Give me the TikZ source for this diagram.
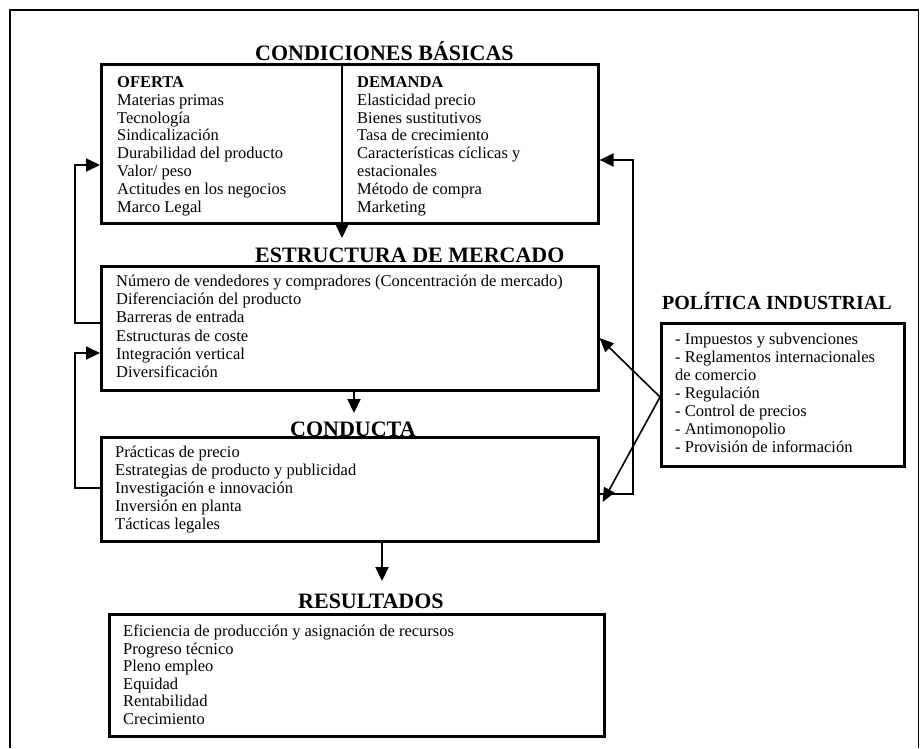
\documentclass[tikz,border=0pt]{standalone}
\usepackage{fontspec}
\setmainfont{Liberation Serif}
\usetikzlibrary{arrows.meta}

\begin{document}
\begin{tikzpicture}[x=1pt,y=-1pt,
  box/.style={draw, line width=2.6pt, anchor=north west, inner sep=0pt,
    minimum width=#1},
  frame/.style={line width=1.3pt},
  conn/.style={line width=2pt, -{Triangle[length=14pt,width=13pt]}},
  slant/.style={line width=1.6pt, -{Triangle[length=14pt,width=12pt]}},
  title/.style={anchor=base west, inner sep=0pt,
    font=\fontsize{22}{24}\selectfont\bfseries},
  body/.style={anchor=north west, inner sep=0pt, align=left,
    font=\fontsize{16.5}{#1}\selectfont},
]
\useasboundingbox (0,0) rectangle (920,748);
\fill[white] (0,0) rectangle (920,748);

% outer frame
\draw[frame] (10,748) -- (10,10) -- (918.5,10) -- (918.5,748);

% boxes
\node[box=497pt, minimum height=159pt] (cb) at (100,63) {};
\node[box=497pt, minimum height=124pt] (em) at (100,265) {};
\node[box=497pt, minimum height=104pt] (co) at (100,436) {};
\node[box=495pt, minimum height=122pt] (re) at (108,613) {};
\node[box=243pt, minimum height=143pt] (pi) at (660,322) {};

% divider between supply and demand
\coordinate (div) at (342,0);
\draw[line width=2.6pt] (cb.north -| div) -- (cb.south -| div);

% titles
\node[title] (cbt) at (255,60) {CONDICIONES BÁSICAS};
\node[title] (emt) at (255,262) {ESTRUCTURA DE MERCADO};
\node[title] (cot) at (290,436) {CONDUCTA};
\node[title] (ret) at (298,608) {RESULTADOS};
\node[title, font=\fontsize{20}{22}\selectfont\bfseries] (pit) at (662,309) {POLÍTICA INDUSTRIAL};

% box contents
\node[body=17.9pt] (of) at (117,74.5) {\strut\textbf{OFERTA}\\
  Materias primas\\ Tecnología\\ Sindicalización\\ Durabilidad del producto\\
  Valor/ peso\\ Actitudes en los negocios\\ Marco Legal};
\node[body=17.9pt] (de) at (357,74.5) {\strut\textbf{DEMANDA}\\
  Elasticidad precio\\ Bienes sustitutivos\\ Tasa de crecimiento\\
  Características cíclicas y\\ estacionales\\ Método de compra\\ Marketing};
\node[body=18.2pt] (emx) at (116,273.5) {\strut Número de vendedores y compradores (Concentración de mercado)\\
  Diferenciación del producto\\ Barreras de entrada\\ Estructuras de coste\\
  Integración vertical\\ Diversificación};
\node[body=18pt] (cox) at (115,444.5) {\strut Prácticas de precio\\
  Estrategias de producto y publicidad\\ Investigación e innovación\\
  Inversión en planta\\ Tácticas legales};
\node[body=18pt] (pix) at (675,331.5) {\strut - Impuestos y subvenciones\\
  - Reglamentos internacionales\\ de comercio\\ - Regulación\\
  - Control de precios\\ - Antimonopolio\\ - Provisión de información};
\node[body=17.6pt] (rex) at (123,624) {\strut Eficiencia de producción y asignación de recursos\\
  Progreso técnico\\ Pleno empleo\\ Equidad\\ Rentabilidad\\ Crecimiento};

% downward flow
\coordinate (a1) at (342,238);
\coordinate (a2) at (354,413);
\coordinate (a3) at (382,581);
\draw[conn] (cb.south -| div) -- (a1);
\draw[conn] (em.south -| a2) -- (a2);
\draw[conn] (co.south -| a3) -- (a3);

% feedback loops on the left
\draw[conn] (em.west |- 0,323) -- (75,323) -- (75,165) -- (cb.west |- 0,165);
\draw[conn] (co.west |- 0,488) -- (75,488) -- (75,353) -- (em.west |- 0,353);

% feedback loop on the right
\draw[conn] (co.east |- 0,494) -- (633,494) -- (633,160) -- (cb.east |- 0,160);

% industrial policy influences
\coordinate (apex) at (pi.west |- 0,397);
\draw[slant] (apex) -- (em.east |- 0,338);
\draw[slant] (apex) -- ([xshift=3pt]co.east |- 0,502);
\end{tikzpicture}
\end{document}
